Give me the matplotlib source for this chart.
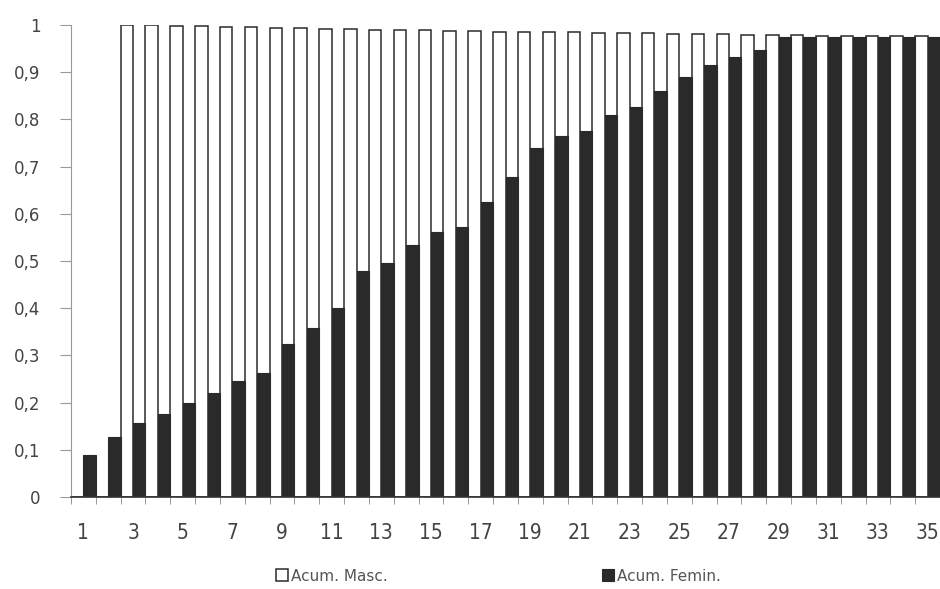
import matplotlib
matplotlib.use("Agg")
import matplotlib.pyplot as plt
import numpy as np

# cumulative proportions
categories = list(range(1, 36))
acum_masc = [0.0, 0.0, 1.000, 0.999, 0.998, 0.997, 0.996, 0.995, 0.994, 0.993,
             0.992, 0.991, 0.990, 0.990, 0.989, 0.988, 0.987, 0.986, 0.986, 0.985,
             0.985, 0.984, 0.983, 0.982, 0.981, 0.980, 0.980, 0.979, 0.978, 0.978,
             0.977, 0.977, 0.977, 0.976, 0.976]
acum_femin = [0.090, 0.128, 0.156, 0.175, 0.200, 0.220, 0.245, 0.263, 0.325, 0.358,
              0.400, 0.478, 0.495, 0.533, 0.562, 0.573, 0.626, 0.679, 0.740, 0.765,
              0.776, 0.810, 0.827, 0.861, 0.890, 0.915, 0.932, 0.947, 0.975, 0.974,
              0.974, 0.974, 0.974, 0.974, 0.974]
y_ticks = [0, 0.1, 0.2, 0.3, 0.4, 0.5, 0.6, 0.7, 0.8, 0.9, 1]
y_labels = ["0", "0,1", "0,2", "0,3", "0,4", "0,5", "0,6", "0,7", "0,8", "0,9", "1"]

x = np.array(categories)
w = 0.5

fig = plt.figure(figsize=(9.4, 5.89), dpi=100)
ax = fig.add_axes([71 / 940, 1 - 497 / 589, 869 / 940, 472 / 589])

ax.bar(x - w / 2, acum_masc, width=w, color="white", edgecolor="#2b2b2b",
       linewidth=1.1, label="Acum. Masc.")
ax.bar(x + w / 2, acum_femin, width=w, color="#2a2a2a", edgecolor="#2a2a2a",
       linewidth=0.8, label="Acum. Femin.")

ax.set_xlim(0.5, 35.5)
ax.set_ylim(0, 1)
ax.set_yticks(y_ticks)
ax.set_yticklabels(y_labels, fontsize=12, color="#444444", family="DejaVu Sans")
ax.tick_params(axis="y", direction="out", length=8, color="#999999", pad=14)

ax.set_xticks(x[::2])
ax.set_xticklabels([str(c) for c in categories[::2]], fontsize=15, color="#444444",
                   family="DejaVu Sans", fontstretch="condensed")
ax.set_xticks(np.arange(0.5, 36, 1), minor=True)
ax.tick_params(axis="x", which="major", length=0, pad=19)
ax.tick_params(axis="x", which="minor", direction="out", length=5, color="#888888")

for side in ("top", "right"):
    ax.spines[side].set_visible(False)
ax.spines["left"].set_color("#999999")
ax.spines["bottom"].set_color("#333333")
ax.spines["bottom"].set_linewidth(1.2)

fig.legend(loc="center", bbox_to_anchor=(0.53, 0.022), ncol=2, frameon=False,
           fontsize=11, handlelength=0.8, handleheight=0.8, handletextpad=0.2,
           columnspacing=14, labelcolor="#555555")

fig.savefig("out.png", dpi=100)
